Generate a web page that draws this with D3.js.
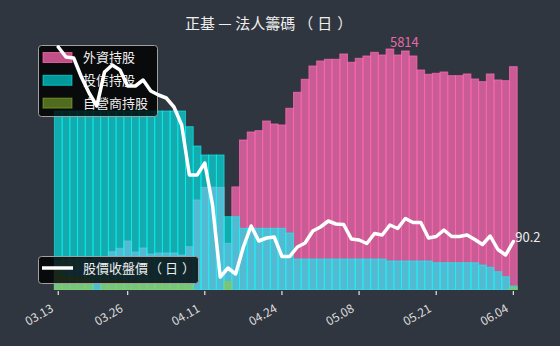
<!DOCTYPE html>
<html><head><meta charset="utf-8">
<script src="https://cdn.jsdelivr.net/npm/d3@7"></script>
<style>
html,body{margin:0;padding:0;background:#30363f;}
svg{display:block;}
text{font-family:"Noto Sans CJK TC","Noto Sans",sans-serif;}
</style></head>
<body>
<svg id="chart" width="560" height="346"></svg>
<script>
const dates = ["03.13","03.14","03.17","03.18","03.19","03.20","03.21","03.24","03.25","03.26",
"03.27","03.28","03.31","04.01","04.02","04.07","04.08","04.09","04.10","04.11",
"04.12","04.14","04.15","04.16","04.17","04.18","04.21","04.22","04.23","04.24",
"04.25","04.28","04.29","04.30","05.01","05.02","05.05","05.06","05.07","05.08",
"05.09","05.10","05.12","05.13","05.14","05.15","05.16","05.19","05.20","05.21",
"05.22","05.23","05.26","05.27","05.28","05.29","05.30","06.02","06.03","06.04"];

const foreign = [700,720,730,740,720,760,780,914,996,1172,
907,1003,858,882,882,882,834,1035,2164,2470,
2475,2468,1117,2480,3614,3808,3839,4073,4001,3977,
4381,4767,5082,5403,5524,5565,5565,5693,5493,5589,
5645,5734,5669,5814,5669,5766,5645,5306,5203,5227,
5258,5169,5169,5210,5089,5024,5210,5065,5048,5386];

const trust = [4315,4315,4315,4315,4315,4315,4315,4315,4315,4315,
4315,4315,4315,4315,4315,4315,4315,3936,3469,3252,
3252,3252,1760,1760,1480,1480,1480,1480,1480,1480,
1366,737,737,737,737,737,737,737,737,737,
737,737,737,689,689,689,689,689,689,648,
648,648,648,648,648,592,537,430,309,85];

const dealer = [465,320,300,280,260,0,240,230,220,200,
200,190,180,180,170,160,160,150,0,0,
0,0,190,0,0,0,0,0,0,0,
0,0,0,0,0,0,0,0,0,0,
0,0,0,0,0,0,0,0,0,0,
0,0,0,0,0,0,0,0,0,50];

const price = [129.1,127.1,126.9,123.1,119.9,117.3,124.1,125.5,124.5,121.3,
121.3,122.5,120.3,119.5,118.9,117.1,113.5,103.5,103.5,105.9,
97.5,83.1,84.9,83.7,89.1,93.3,90.3,90.9,91.1,87.2,
87.2,89.1,89.9,92.3,93.1,94.3,93.7,93.6,90.7,90.5,
89.8,91.8,91.5,93.5,92.8,94.8,94.0,94.0,90.9,91.2,
92.5,91.2,91.2,91.5,90.6,89.6,91.3,88.6,87.5,90.2];

const tickIdx = [0,9,19,29,39,49,59];
const seriesNames = ["外資持股","投信持股","自營商持股"];
const lineName = ["股價收盤價","（","日","）"];
const title = ["正基 — 法人籌碼","（","日","）"];

const svg = d3.select("#chart");
const W = 560, H = 346;
svg.append("rect").attr("width",W).attr("height",H).attr("fill","#30363f");

const x = d3.scaleBand().domain(d3.range(dates.length)).range([54.4, 517.2]).padding(0);
const y = d3.scaleLinear().domain([0, 6000]).range([289.5, 41.3]);
const yP = d3.scaleLinear().domain([80, 130]).range([292.5, 42.5]);

const styles = [
  {color:"#ff69b4", op:0.74},
  {color:"#00ffff", op:0.58},
  {color:"#9acd32", op:0.5}
];
const data = [foreign, trust, dealer];

data.forEach((vals, k) => {
  const st = styles[k];
  svg.append("g").selectAll("rect")
    .data(vals.map((v,i)=>({v,i})).filter(d=>d.v>0))
    .join("rect")
    .attr("x", d=>x(d.i))
    .attr("width", x.bandwidth())
    .attr("y", d=>y(d.v))
    .attr("height", d=>y(0)-y(d.v))
    .attr("fill", st.color).attr("fill-opacity", st.op)
    .attr("stroke", st.color).attr("stroke-opacity", st.op).attr("stroke-width", 1);
});

// max labels
const fMax = d3.maxIndex(foreign);
svg.append("text").attr("x", x(fMax)+x.bandwidth()/2).attr("y", y(foreign[fMax])-2)
  .attr("fill","#e36aa8").attr("font-size",13).text(foreign[fMax]);
const dMax = d3.maxIndex(dealer);
svg.append("text").attr("x", x(dMax)+x.bandwidth()/2).attr("y", y(dealer[dMax])-2)
  .attr("fill","#9acd32").attr("fill-opacity",0.6).attr("font-size",13).text(dealer[dMax]);

// axis
const ax = svg.append("g").attr("transform","translate(0,291)")
  .call(d3.axisBottom(x).tickValues(tickIdx).tickFormat(i=>dates[i]).tickSize(4));
ax.select(".domain").remove();
ax.selectAll(".tick line").attr("stroke","#e6e6e6").attr("stroke-width",1.2);
ax.selectAll(".tick text")
  .attr("fill","#dddddd").attr("font-size",12)
  .attr("font-family",'"Noto Sans CJK TC","Noto Sans",sans-serif')
  .attr("text-anchor","end").attr("dy",null).attr("y",0).attr("x",0)
  .attr("transform","translate(-4,20) rotate(-30)");

function spaced(sel, parts, gaps){
  parts.forEach((p,i)=>{ sel.append("tspan").attr("dx", gaps[i]).text(p); });
}

// bar legend
const lg = svg.append("g");
lg.append("rect").attr("x",38.5).attr("y",45.5).attr("width",119).attr("height",71).attr("rx",3)
  .attr("fill","#000").attr("fill-opacity",0.8).attr("stroke","#a0a0a0").attr("stroke-width",1);
seriesNames.forEach((n,k)=>{
  const cy = 57.5 + k*22.8;
  lg.append("rect").attr("x",43).attr("y",cy-5).attr("width",29).attr("height",10)
    .attr("fill",styles[k].color).attr("fill-opacity",styles[k].op)
    .attr("stroke",styles[k].color).attr("stroke-opacity",styles[k].op);
  lg.append("text").attr("x",83).attr("y",cy+4.5).attr("fill","#eeeeee").attr("font-size",13).text(n);
});

// price line
const line = d3.line().x((d,i)=>x(i)+x.bandwidth()/2).y(d=>yP(d));
svg.append("path").attr("d", line(price)).attr("fill","none").attr("stroke","#ffffff")
  .attr("stroke-width",3.5).attr("stroke-linejoin","round").attr("stroke-linecap","round");
const last = price.length-1;
svg.append("text").attr("x", x(last)+x.bandwidth()/2+2).attr("y", yP(price[last])+0.5)
  .attr("fill","#eeeeee").attr("font-size",13).text(price[last]);

// line legend
const lg2 = svg.append("g");
lg2.append("rect").attr("x",38.5).attr("y",256.5).attr("width",160).attr("height",27).attr("rx",3)
  .attr("fill","#000").attr("fill-opacity",0.8).attr("stroke","#a0a0a0").attr("stroke-width",1);
lg2.append("line").attr("x1",42).attr("x2",73).attr("y1",268).attr("y2",268)
  .attr("stroke","#fff").attr("stroke-width",3.5);
const lt = lg2.append("text").attr("x",83).attr("y",272.5).attr("fill","#eeeeee").attr("font-size",13);
spaced(lt, lineName, [0,1,3,4]);

// title
const tt = svg.append("text").attr("x",185).attr("y",29)
  .attr("fill","#eeeeee").attr("font-size",15);
spaced(tt, title, [0,3,4,5]);
</script>
</body></html>
